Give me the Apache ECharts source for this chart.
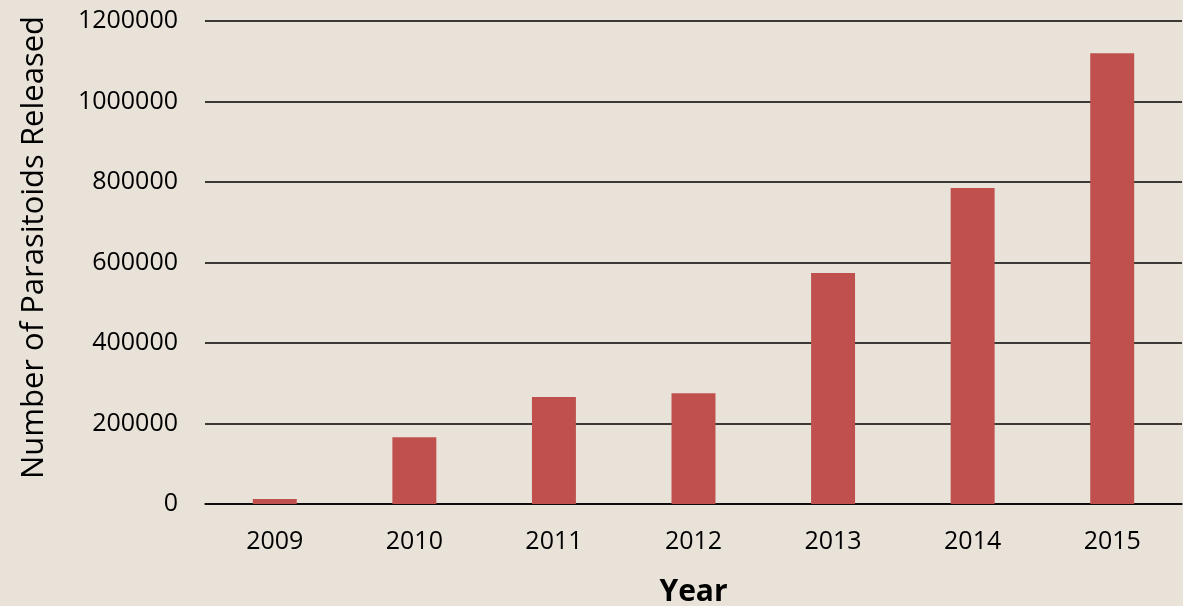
<!DOCTYPE html>
<html><head><meta charset="utf-8">
<script src="https://cdn.jsdelivr.net/npm/echarts@6/dist/echarts.min.js"></script>
<style>html,body{margin:0;padding:0;background:#e8e2d8;overflow:hidden;}#c{width:1183px;height:606px;}</style>
</head><body><div id="c"></div>
<script>
const years = ['2009','2010','2011','2012','2013','2014','2015'];
const released = [12500, 166000, 266000, 275000, 574000, 785000, 1120000];
const yTicks = [0, 200000, 400000, 600000, 800000, 1000000, 1200000];

const chart = echarts.init(document.getElementById('c'));
const font = '"Open Sans", sans-serif';
chart.setOption({
  backgroundColor: '#e8e2d8',
  animation: false,
  grid: {left: 205, right: 1, top: 21, bottom: 102, containLabel: false, outerBoundsMode: 'none'},
  xAxis: {
    type: 'category', data: years,
    axisLine: {lineStyle: {color: '#000', width: 1.5}},
    axisTick: {show: false},
    axisLabel: {color: '#000', fontSize: 25, fontFamily: font, margin: 25},
    name: 'Year', nameLocation: 'middle', nameGap: 73,
    nameTextStyle: {color: '#000', fontSize: 30, fontWeight: 'bold', fontFamily: font}
  },
  yAxis: {
    type: 'value', min: yTicks[0], max: yTicks[yTicks.length-1], interval: 200000,
    axisLine: {show: false}, axisTick: {show: false},
    splitLine: {lineStyle: {color: '#000', width: 1.5}},
    axisLabel: {color: '#000', fontSize: 25, fontFamily: font, margin: 27, formatter: v => String(v)},
    name: 'Number of Parasitoids Released', nameLocation: 'middle', nameGap: 155,
    nameTextStyle: {color: '#000', fontSize: 31, fontFamily: font, padding: [0, 0, 0, 30]}
  },
  series: [{
    type: 'bar', data: released, barWidth: '31.5%',
    itemStyle: {color: '#c0504d'}
  }]
});
</script></body></html>
